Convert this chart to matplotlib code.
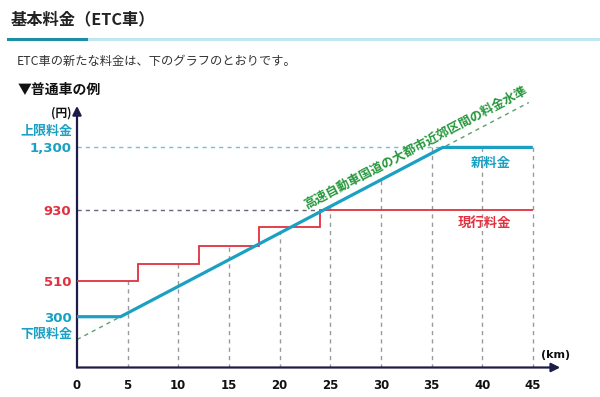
import numpy as np
import matplotlib
matplotlib.use("Agg")
import matplotlib.pyplot as plt

plt.rcParams['font.family'] = ['Noto Sans CJK JP', 'DejaVu Sans']

# 現行料金 (step) : km edges and yen levels
cur_edges = [0, 6, 12, 18, 24, 45]
cur_yen = [510, 610, 720, 830, 930]

# 新料金 polyline
new_km = [0, 4.3, 36.1, 45]
new_yen = [300, 300, 1300, 1300]

# 大都市近郊区間の料金水準 (dashed reference)
level_km = [0, 44.6]
level_yen = [165, 1565]

km_ticks = [0, 5, 10, 15, 20, 25, 30, 35, 40, 45]
yen_ticks = [300, 510, 930, 1300]
yen_labels = ['300', '510', '930', '1,300']

TEAL = '#1aa0c2'
RED = '#e2303e'
GREEN = '#26973c'
NAVY = '#1c1c48'
GRAY = '#9a9a9a'
NUMFONT = ['DejaVu Sans']

fig = plt.figure(figsize=(6, 3.97), dpi=100)
W, H = 600, 397


def ftext(x, y, s, **kw):
    fig.text(x / W, 1 - y / H, s, **kw)


# header
ftext(11, 19, '基本料金（ETC車）', fontsize=11.7, fontweight='bold', color='#222222', va='center')
fig.add_artist(plt.Line2D([86 / W, 1], [1 - 38.5 / H] * 2, color='#bfe7f1', lw=2.2))
fig.add_artist(plt.Line2D([8 / W, 86 / W], [1 - 38.5 / H] * 2, color='#1d8ea6', lw=2.2))
ftext(17, 61.5, 'ETC車の新たな料金は、下のグラフのとおりです。', fontsize=8.8, color='#333333', va='center')
ftext(18, 90, '▼普通車の例', fontsize=10, fontweight='bold', color='#111111', va='center')

ax = fig.add_axes([77 / W, 1 - 367.5 / H, 493 / W, 267.5 / H])
ax.set_xlim(0, 493 / 10.13)
ax.set_ylim(0, 267.5 / 0.1693)
for s in ax.spines.values():
    s.set_visible(False)
ax.set_facecolor('none')

# axes with arrows
ax.annotate('', xy=(47.7, 0), xytext=(0, 0), annotation_clip=False,
            arrowprops=dict(arrowstyle='-|>', color=NAVY, lw=1.6, mutation_scale=13, shrinkA=0, shrinkB=0))
ax.annotate('', xy=(0, 1545), xytext=(0, 0), annotation_clip=False,
            arrowprops=dict(arrowstyle='-|>', color=NAVY, lw=1.6, mutation_scale=13, shrinkA=0, shrinkB=0))

# vertical guides up to the higher of the two fares (or the cap line)
cur_at = lambda k: cur_yen[min(np.searchsorted(cur_edges, k, side='right') - 1, len(cur_yen) - 1)]
for k in km_ticks[1:]:
    top = max(cur_at(k), np.interp(k, new_km, new_yen))
    if top > new_yen[-1] * 0.95:
        top = new_yen[-1]
    ax.plot([k, k], [0, top], color=GRAY, lw=1, ls=(0, (3, 3)), zorder=1)

# horizontal guides
ax.plot([0, new_km[2]], [new_yen[2]] * 2, color='#6cc4d8', lw=1, ls=(0, (3, 3)), zorder=1)
ax.plot([0, cur_edges[4]], [cur_yen[4]] * 2, color='#666677', lw=1, ls=(0, (3, 3)), zorder=1)

# reference level line
ax.plot(level_km, level_yen, color='#5f9e6e', lw=1, ls=(0, (3, 3)), zorder=2, clip_on=False)

# fares
ax.stairs(cur_yen, cur_edges, baseline=None, color=RED, lw=1.3, zorder=3)
ax.plot(new_km, new_yen, color=TEAL, lw=2.3, zorder=4, solid_capstyle='butt')

ang = np.degrees(np.arctan2(level_yen[1] - level_yen[0], level_km[1] - level_km[0]))
ax.text(33.7, 1265, '高速自動車国道の大都市近郊区間の料金水準', color=GREEN, fontsize=9,
        fontweight='bold', rotation=ang, transform_rotates_text=True, rotation_mode='anchor',
        ha='center', va='bottom', clip_on=False)

ax.text(40.9, 1210, '新料金', color=TEAL, fontsize=9.6, fontweight='bold', ha='center', va='center')
ax.text(40.2, 855, '現行料金', color=RED, fontsize=9.6, fontweight='bold', ha='center', va='center')

# ticks
ax.set_xticks(km_ticks)
ax.set_xticklabels([str(k) for k in km_ticks], fontsize=8.5, fontweight='bold', family=NUMFONT)
ax.tick_params(axis='x', length=0, pad=8, colors='#111111')
ax.set_yticks(yen_ticks)
ax.set_yticklabels(yen_labels, fontsize=9.5, fontweight='bold', family=NUMFONT)
ax.tick_params(axis='y', length=0, pad=4)
for lab, c in zip(ax.get_yticklabels(), [TEAL, RED, RED, TEAL]):
    lab.set_color(c)

ftext(72.5, 131, '上限料金', fontsize=9.4, fontweight='bold', color=TEAL, ha='right', va='center')
ftext(72.5, 334, '下限料金', fontsize=9.4, fontweight='bold', color=TEAL, ha='right', va='center')
ftext(72, 113, '(円)', fontsize=8.5, fontweight='bold', color='#111111', ha='right', va='center')
ftext(556, 355, '(km)', fontsize=8, fontweight='bold', color='#111111', ha='center', va='center',
      family=NUMFONT)

fig.savefig('out.png', dpi=100)
